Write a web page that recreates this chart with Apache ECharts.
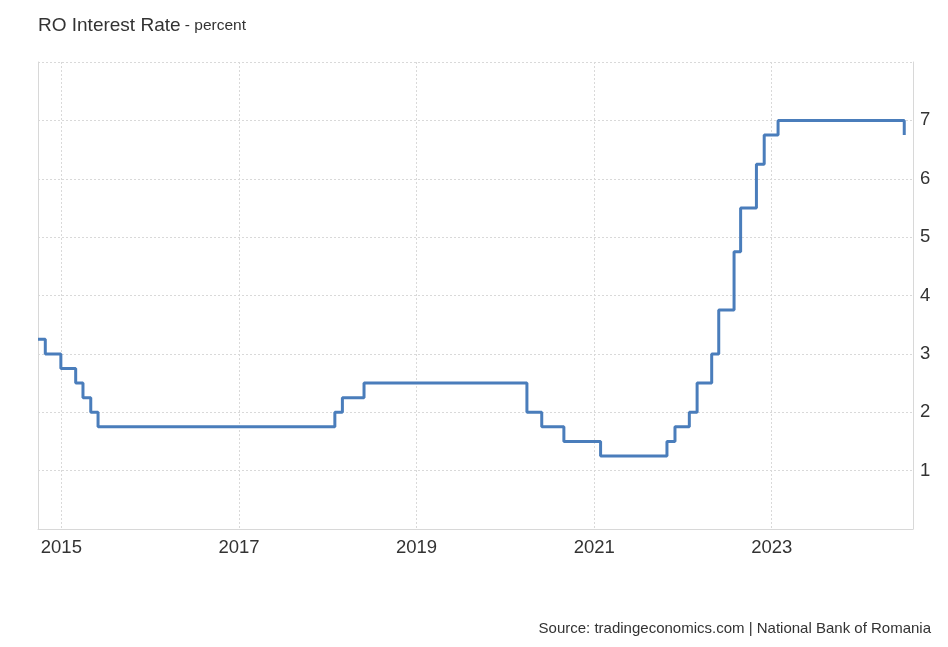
<!DOCTYPE html>
<html>
  <head>
    <meta charset="UTF-8" />
    <title>RO Interest Rate</title>
    <script src="https://cdn.jsdelivr.net/npm/echarts@6/dist/echarts.min.js"></script>
    <style>
      html,
      body {
        margin: 0;
        padding: 0;
        background: #fff;
      }
      #main {
        width: 948px;
        height: 647px;
      }
    </style>
  </head>
  <body>
    <div id="main"></div>
    <script>
      // dates where the policy rate changed, and the rate from that date on
      var changeDates = [
        "2014-09-27", "2014-10-27", "2014-12-30", "2015-03-01", "2015-03-31",
        "2015-05-02", "2015-06-01", "2018-01-30", "2018-03-02", "2018-05-30",
        "2020-03-30", "2020-05-30", "2020-08-29", "2021-01-27", "2021-10-27",
        "2021-11-29", "2022-01-27", "2022-02-28", "2022-04-29", "2022-05-28",
        "2022-07-30", "2022-08-26", "2022-10-30", "2022-12-01", "2023-01-27",
        "2024-06-29",
      ];
      var rates = [
        3.25, 3.0, 2.75, 2.5, 2.25,
        2.0, 1.75, 2.0, 2.25, 2.5,
        2.0, 1.75, 1.5, 1.25, 1.5,
        1.75, 2.0, 2.5, 3.0, 3.75,
        4.75, 5.5, 6.25, 6.75, 7.0,
        6.75,
      ];
      var yearTicks = [2015, 2017, 2019, 2021, 2023];
      var rateTicks = [1, 2, 3, 4, 5, 6, 7];
      var axisStart = "2014-09-27";
      var axisEnd = "2024-08-04";

      var font = "'Liberation Sans', Arial, sans-serif";
      function ts(s) {
        var p = s.split("-");
        return Date.UTC(+p[0], +p[1] - 1, +p[2]);
      }
      var yearStamps = yearTicks.map(function (y) {
        return Date.UTC(y, 0, 1);
      });

      var seriesData = changeDates.map(function (d, i) {
        return [ts(d), rates[i]];
      });

      var myChart = echarts.init(document.getElementById("main"));
      var option = {
        animation: false,
        backgroundColor: "#fff",
        textStyle: { fontFamily: font },
        title: {
          text: "{main|RO Interest Rate}{sub| - percent}",
          left: 38,
          top: 16,
          padding: 0,
          textStyle: {
            fontWeight: "normal",
            rich: {
              main: { fontSize: 19, color: "#333", fontFamily: font, fontWeight: "normal" },
              sub: { fontSize: 15.5, color: "#333", fontFamily: font, fontWeight: "normal" },
            },
          },
        },
        graphic: [
          {
            type: "text",
            right: 17,
            top: 621,
            style: {
              text: "Source: tradingeconomics.com | National Bank of Romania",
              fontSize: 15,
              fill: "#333",
              fontFamily: font,
            },
          },
        ],
        grid: {
          left: 38,
          right: 35,
          top: 62,
          bottom: 118,
          containLabel: false,
        },
        xAxis: {
          type: "value",
          min: ts(axisStart),
          max: ts(axisEnd),
          axisLine: { show: true, lineStyle: { color: "#d8d8d8", width: 1 } },
          axisTick: { show: false, customValues: yearStamps },
          axisLabel: {
            customValues: yearStamps,
            color: "#333",
            fontSize: 18.5,
            margin: 9,
            fontFamily: font,
            formatter: function (v) {
              return String(new Date(v).getUTCFullYear());
            },
          },
          splitLine: {
            show: true,
            lineStyle: { color: "#d9d9d9", type: [2, 2], width: 1 },
          },
        },
        yAxis: [
          {
            type: "value",
            position: "right",
            min: 0,
            max: 8,
            interval: 1,
            axisLine: { show: true, lineStyle: { color: "#d8d8d8" } },
            axisTick: { show: false },
            axisLabel: {
              color: "#333",
              fontSize: 18.5,
              margin: 7,
              fontFamily: font,
              formatter: function (v) {
                return rateTicks.indexOf(v) >= 0 ? String(v) : "";
              },
            },
            splitLine: {
              show: true,
              lineStyle: { color: "#d9d9d9", type: [2, 2], width: 1 },
            },
          },
          {
            // left border
            type: "value",
            position: "left",
            min: 0,
            max: 8,
            axisLine: { show: true, lineStyle: { color: "#d8d8d8" } },
            axisTick: { show: false },
            axisLabel: { show: false },
            splitLine: { show: false },
          },
        ],
        series: [
          {
            type: "line",
            step: "end",
            data: seriesData,
            showSymbol: false,
            symbol: "none",
            lineStyle: { color: "#4a7dbb", width: 3 },
            itemStyle: { color: "#4a7dbb" },
          },
        ],
      };
      myChart.setOption(option);
    </script>
  </body>
</html>
